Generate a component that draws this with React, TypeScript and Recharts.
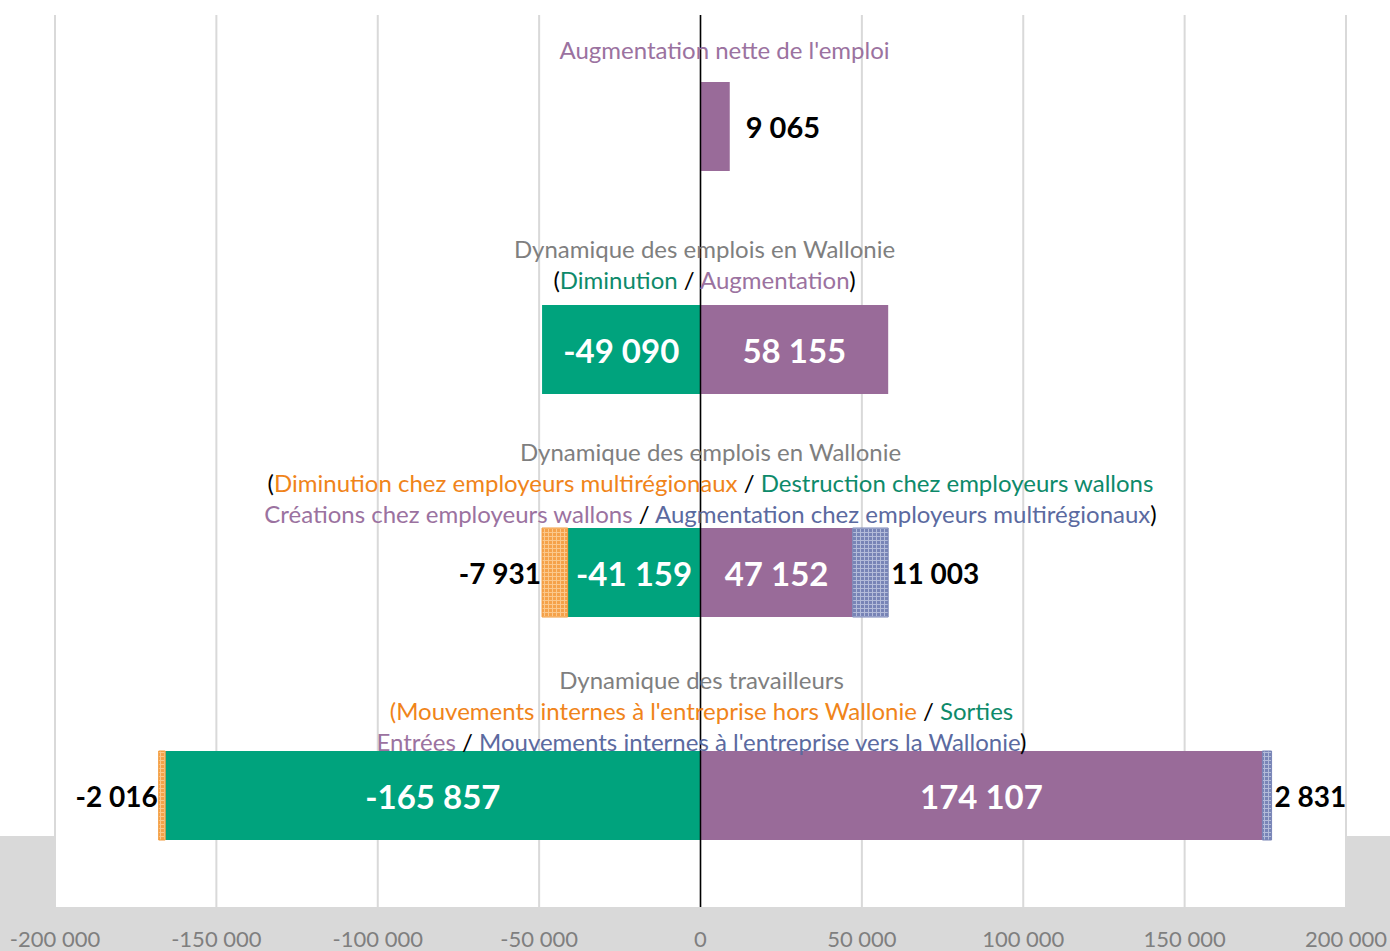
import React from "react";
import {
  BarChart,
  Bar,
  XAxis,
  YAxis,
  CartesianGrid,
  ReferenceLine,
  LabelList,
} from "recharts";

// rows, top to bottom
const categories = ["net", "emplois", "employeurs", "travailleurs"];

// negative side (green next to zero, orange beyond)
const sorties = [null, -49090, -41159, -165857];
const multiregionalOut = [null, null, -7931, -2016];
// positive side (purple next to zero, blue beyond)
const entrees = [9065, 58155, 47152, 174107];
const multiregionalIn = [null, null, 11003, 2831];

const xTicks = [-200000, -150000, -100000, -50000, 0, 50000, 100000, 150000, 200000];

const GREEN = "#00a37d";
const PURPLE = "#996b99";
const T_GREY = "#7f7f7f";
const T_PURPLE = "#9b72a0";
const T_GREEN = "#0d8a6a";
const T_ORANGE = "#f0841a";
const T_BLUE = "#5b6aa0";
const BLACK = "#000";

// title lines per row: [text, colour] pieces
const titles: [string, string][][][] = [
  [[["Augmentation nette de l'emploi", T_PURPLE]]],
  [
    [["Dynamique des emplois en Wallonie", T_GREY]],
    [["(", BLACK], ["Diminution", T_GREEN], [" / ", BLACK], ["Augmentation", T_PURPLE], [")", BLACK]],
  ],
  [
    [["Dynamique des emplois en Wallonie", T_GREY]],
    [
      ["(", BLACK],
      ["Diminution chez employeurs multirégionaux", T_ORANGE],
      [" / ", BLACK],
      ["Destruction chez employeurs wallons", T_GREEN],
    ],
    [
      ["Créations chez employeurs wallons", T_PURPLE],
      [" / ", BLACK],
      ["Augmentation chez employeurs multirégionaux", T_BLUE],
      [")", BLACK],
    ],
  ],
  [
    [["Dynamique des travailleurs", T_GREY]],
    [
      ["(Mouvements internes à l'entreprise hors Wallonie", T_ORANGE],
      [" / ", BLACK],
      ["Sorties", T_GREEN],
    ],
    [
      ["Entrées", T_PURPLE],
      [" / ", BLACK],
      ["Mouvements internes à l'entreprise vers la Wallonie", T_BLUE],
      [")", BLACK],
    ],
  ],
];

const data = categories.map((c, i) => ({
  name: c,
  sorties: sorties[i],
  multiOut: multiregionalOut[i],
  entrees: entrees[i],
  multiIn: multiregionalIn[i],
}));

const W = 1390;
const H = 951;
const M = { top: 15, right: 44, bottom: 14, left: 55 };

const FONT = "Lato, 'Open Sans', sans-serif";

const fmt = (v: number) => String(v).replace(/\B(?=(\d{3})+(?!\d))/g, " ");

const titleOffsets = [[-78], [-102, -71], [-122, -91, -60], [-117, -86, -55]];
const titleDx = [24, 4, 10, 1];

// titles are hung on the purple bar: its x is the zero line
function TitleLabel(props: any) {
  const { x, y, height, value } = props;
  const idx = categories.indexOf(value);
  if (idx < 0) return null;
  const cx = Number(x) + titleDx[idx];
  const cy = Number(y) + Number(height) / 2;
  return (
    <g>
      {titles[idx].map((line, li) => (
        <text
          key={li}
          x={cx}
          y={cy + titleOffsets[idx][li]}
          textAnchor="middle"
          dominantBaseline="central"
          fontSize={24}
          fontFamily={FONT}
        >
          {line.map(([t, c], k) => (
            <tspan key={k} fill={c}>
              {t}
            </tspan>
          ))}
        </text>
      ))}
    </g>
  );
}

const edge = (p: any) => {
  const a = Number(p.x);
  const b = Number(p.x) + Number(p.width);
  return { left: Math.min(a, b), right: Math.max(a, b) };
};

function InsideLabel(props: any) {
  const { x, y, width, height, value } = props;
  if (value == null) return null;
  const { right } = edge(props);
  if (Math.abs(width) < 60) {
    return (
      <text x={right + 16} y={y + height / 2} fill={BLACK} fontSize={29} fontWeight={700}
        fontFamily={FONT} dominantBaseline="central">
        {fmt(value)}
      </text>
    );
  }
  return (
    <text x={x + width / 2} y={y + height / 2} fill="#fff" textAnchor="middle"
      dominantBaseline="central" fontSize={33} fontWeight={700} fontFamily={FONT}>
      {fmt(value)}
    </text>
  );
}

function LeftLabel(props: any) {
  const { y, height, value } = props;
  if (value == null) return null;
  const { left } = edge(props);
  return (
    <text x={left - 1} y={y + height / 2} fill={BLACK} textAnchor="end"
      dominantBaseline="central" fontSize={28} fontWeight={700} fontFamily={FONT}>
      {fmt(value)}
    </text>
  );
}

function RightLabel(props: any) {
  const { y, height, value } = props;
  if (value == null) return null;
  const { right } = edge(props);
  return (
    <text x={right + 3} y={y + height / 2} fill={BLACK} dominantBaseline="central"
      fontSize={28} fontWeight={700} fontFamily={FONT}>
      {fmt(value)}
    </text>
  );
}

export default function App() {
  return (
    <div style={{ position: "relative", width: W, height: H, background: "#fff", overflow: "hidden" }}>
      <style>{`body{margin:0}`}</style>
      <div style={{ position: "absolute", left: 0, top: 836, width: W, height: H - 836, background: "#d9d9d9" }} />
      <svg width={0} height={0} style={{ position: "absolute" }}>
        <defs>
          <pattern id="orangeGrid" width={4} height={4} patternUnits="userSpaceOnUse">
            <rect width={4} height={4} fill="#f5a24a" />
            <path d="M0 0.5H4M0.5 0V4" stroke="#fbc88c" strokeWidth={1} />
          </pattern>
          <pattern id="blueGrid" width={4} height={4} patternUnits="userSpaceOnUse">
            <rect width={4} height={4} fill="#7884b6" />
            <path d="M0 0.5H4M0.5 0V4" stroke="#b3bbd9" strokeWidth={1} />
          </pattern>
        </defs>
      </svg>
      <div style={{ position: "absolute", left: 0, top: 0 }}>
        <BarChart
          width={W}
          height={H}
          data={data}
          layout="vertical"
          stackOffset="sign"
          margin={M}
          barSize={89}
        >
          <CartesianGrid horizontal={false} stroke="#d9d9d9" strokeWidth={2} fill="#fff" />
          <XAxis
            type="number"
            domain={[-200000, 200000]}
            ticks={xTicks}
            tickFormatter={fmt}
            axisLine={false}
            tickLine={false}
            height={30}
            tickMargin={18}
            tick={{ fill: "#7f7f7f", fontSize: 22, fontFamily: FONT }}
          />
          <YAxis type="category" dataKey="name" width={0} axisLine={false} tickLine={false} tick={false} />
          <Bar dataKey="entrees" stackId="a" fill={PURPLE} isAnimationActive={false}>
            <LabelList dataKey="name" content={<TitleLabel />} />
            <LabelList dataKey="entrees" content={<InsideLabel />} />
          </Bar>
          <Bar dataKey="multiIn" stackId="a" fill="url(#blueGrid)" stroke="#7884b6" strokeWidth={1} isAnimationActive={false}>
            <LabelList dataKey="multiIn" content={<RightLabel />} />
          </Bar>
          <Bar dataKey="sorties" stackId="a" fill={GREEN} isAnimationActive={false}>
            <LabelList dataKey="sorties" content={<InsideLabel />} />
          </Bar>
          <Bar dataKey="multiOut" stackId="a" fill="url(#orangeGrid)" stroke="#f29a3a" strokeWidth={1} isAnimationActive={false}>
            <LabelList dataKey="multiOut" content={<LeftLabel />} />
          </Bar>
          <ReferenceLine x={0} stroke="#000" strokeWidth={1.5} />
        </BarChart>
      </div>
    </div>
  );
}
